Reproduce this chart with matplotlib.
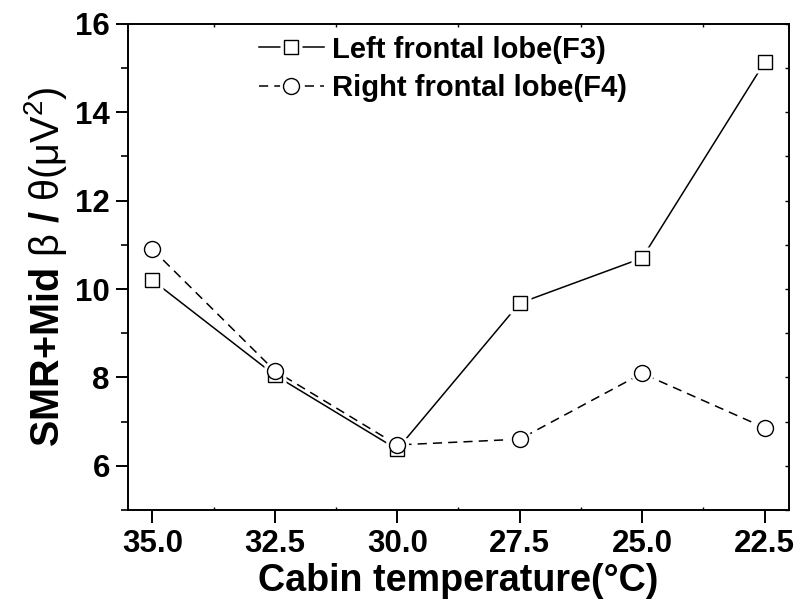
import matplotlib
matplotlib.use("Agg")
import matplotlib.pyplot as plt
from matplotlib.ticker import MultipleLocator, FormatStrFormatter
from matplotlib.legend_handler import HandlerTuple

plt.rcParams['font.family'] = ['Liberation Sans', 'DejaVu Sans']
plt.rcParams['mathtext.fontset'] = 'custom'
plt.rcParams['mathtext.rm'] = 'Liberation Sans'
plt.rcParams['mathtext.it'] = 'Liberation Sans'
plt.rcParams['mathtext.bf'] = 'Liberation Sans:bold'
plt.rcParams['mathtext.default'] = 'rm'

temps = [35.0, 32.5, 30.0, 27.5, 25.0, 22.5]
left_f3 = [10.2, 8.05, 6.37, 9.68, 10.70, 15.13]
right_f4 = [10.90, 8.15, 6.47, 6.60, 8.09, 6.86]
labels = ['Left frontal lobe(F3)', 'Right frontal lobe(F4)']

fig = plt.figure(figsize=(7.99, 6.07), dpi=100)
ax = fig.add_axes([0.160, 0.160, 0.8275, 0.8005])

def series(x, y, marker, ls, ms):
    ln, = ax.plot(x, y, color='black', lw=1.1, ls=ls, zorder=2)
    bg, = ax.plot(x, y, ls='none', marker=marker, ms=ms + 5, mfc='white', mec='none', zorder=3)
    mk, = ax.plot(x, y, ls='none', marker=marker, ms=ms, mfc='white', mec='black', mew=1.0, zorder=4)
    return (ln, bg, mk)

h1 = series(temps, left_f3, 's', '-', 10.5)
h2 = series(temps, right_f4, 'o', (0, (6, 4)), 11.5)

ax.set_xlim(35.5, 22.0)
ax.set_ylim(5, 16)
ax.xaxis.set_major_locator(MultipleLocator(2.5))
ax.xaxis.set_minor_locator(MultipleLocator(1.25))
ax.yaxis.set_major_locator(MultipleLocator(2))
ax.yaxis.set_minor_locator(MultipleLocator(1))
ax.xaxis.set_major_formatter(FormatStrFormatter('%.1f'))

for s in ax.spines.values():
    s.set_linewidth(1.4)

ax.tick_params(axis='x', which='major', direction='out', length=9, width=1.4,
               top=False, labelsize=22.5, pad=5)
ax.tick_params(axis='x', which='minor', direction='in', length=2, width=1.0, top=True)
ax.tick_params(axis='y', which='major', direction='out', length=9, width=1.4,
               right=False, labelsize=22.5, pad=4)
ax.tick_params(axis='y', which='minor', direction='out', length=5, width=1.2, right=False)
for lab in ax.get_xticklabels() + ax.get_yticklabels():
    lab.set_fontweight('bold')

# right-side inward ticks at every unit
axr = ax.twinx()
axr.set_ylim(5, 16)
axr.yaxis.set_major_locator(MultipleLocator(1))
axr.tick_params(axis='y', direction='in', length=3, width=1.0, labelright=False)
for s in axr.spines.values():
    s.set_visible(False)

ax.set_xlabel('Cabin temperature(°C)', fontsize=27.2, fontweight='bold', labelpad=3)
ax.set_ylabel(r'SMR+Mid $\beta$ / $\theta(\mu V^2)$', fontsize=28.5, fontweight='bold', labelpad=4)

leg = ax.legend([h1, h2], labels, handler_map={tuple: HandlerTuple(ndivide=1, pad=0)},
                loc='upper left', bbox_to_anchor=(0.18, 1.0), frameon=False,
                prop={'weight': 'bold', 'size': 21}, handlelength=2.25,
                handletextpad=0.28, labelspacing=0.36, borderaxespad=0.0)

fig.savefig('out.png', dpi=100)
